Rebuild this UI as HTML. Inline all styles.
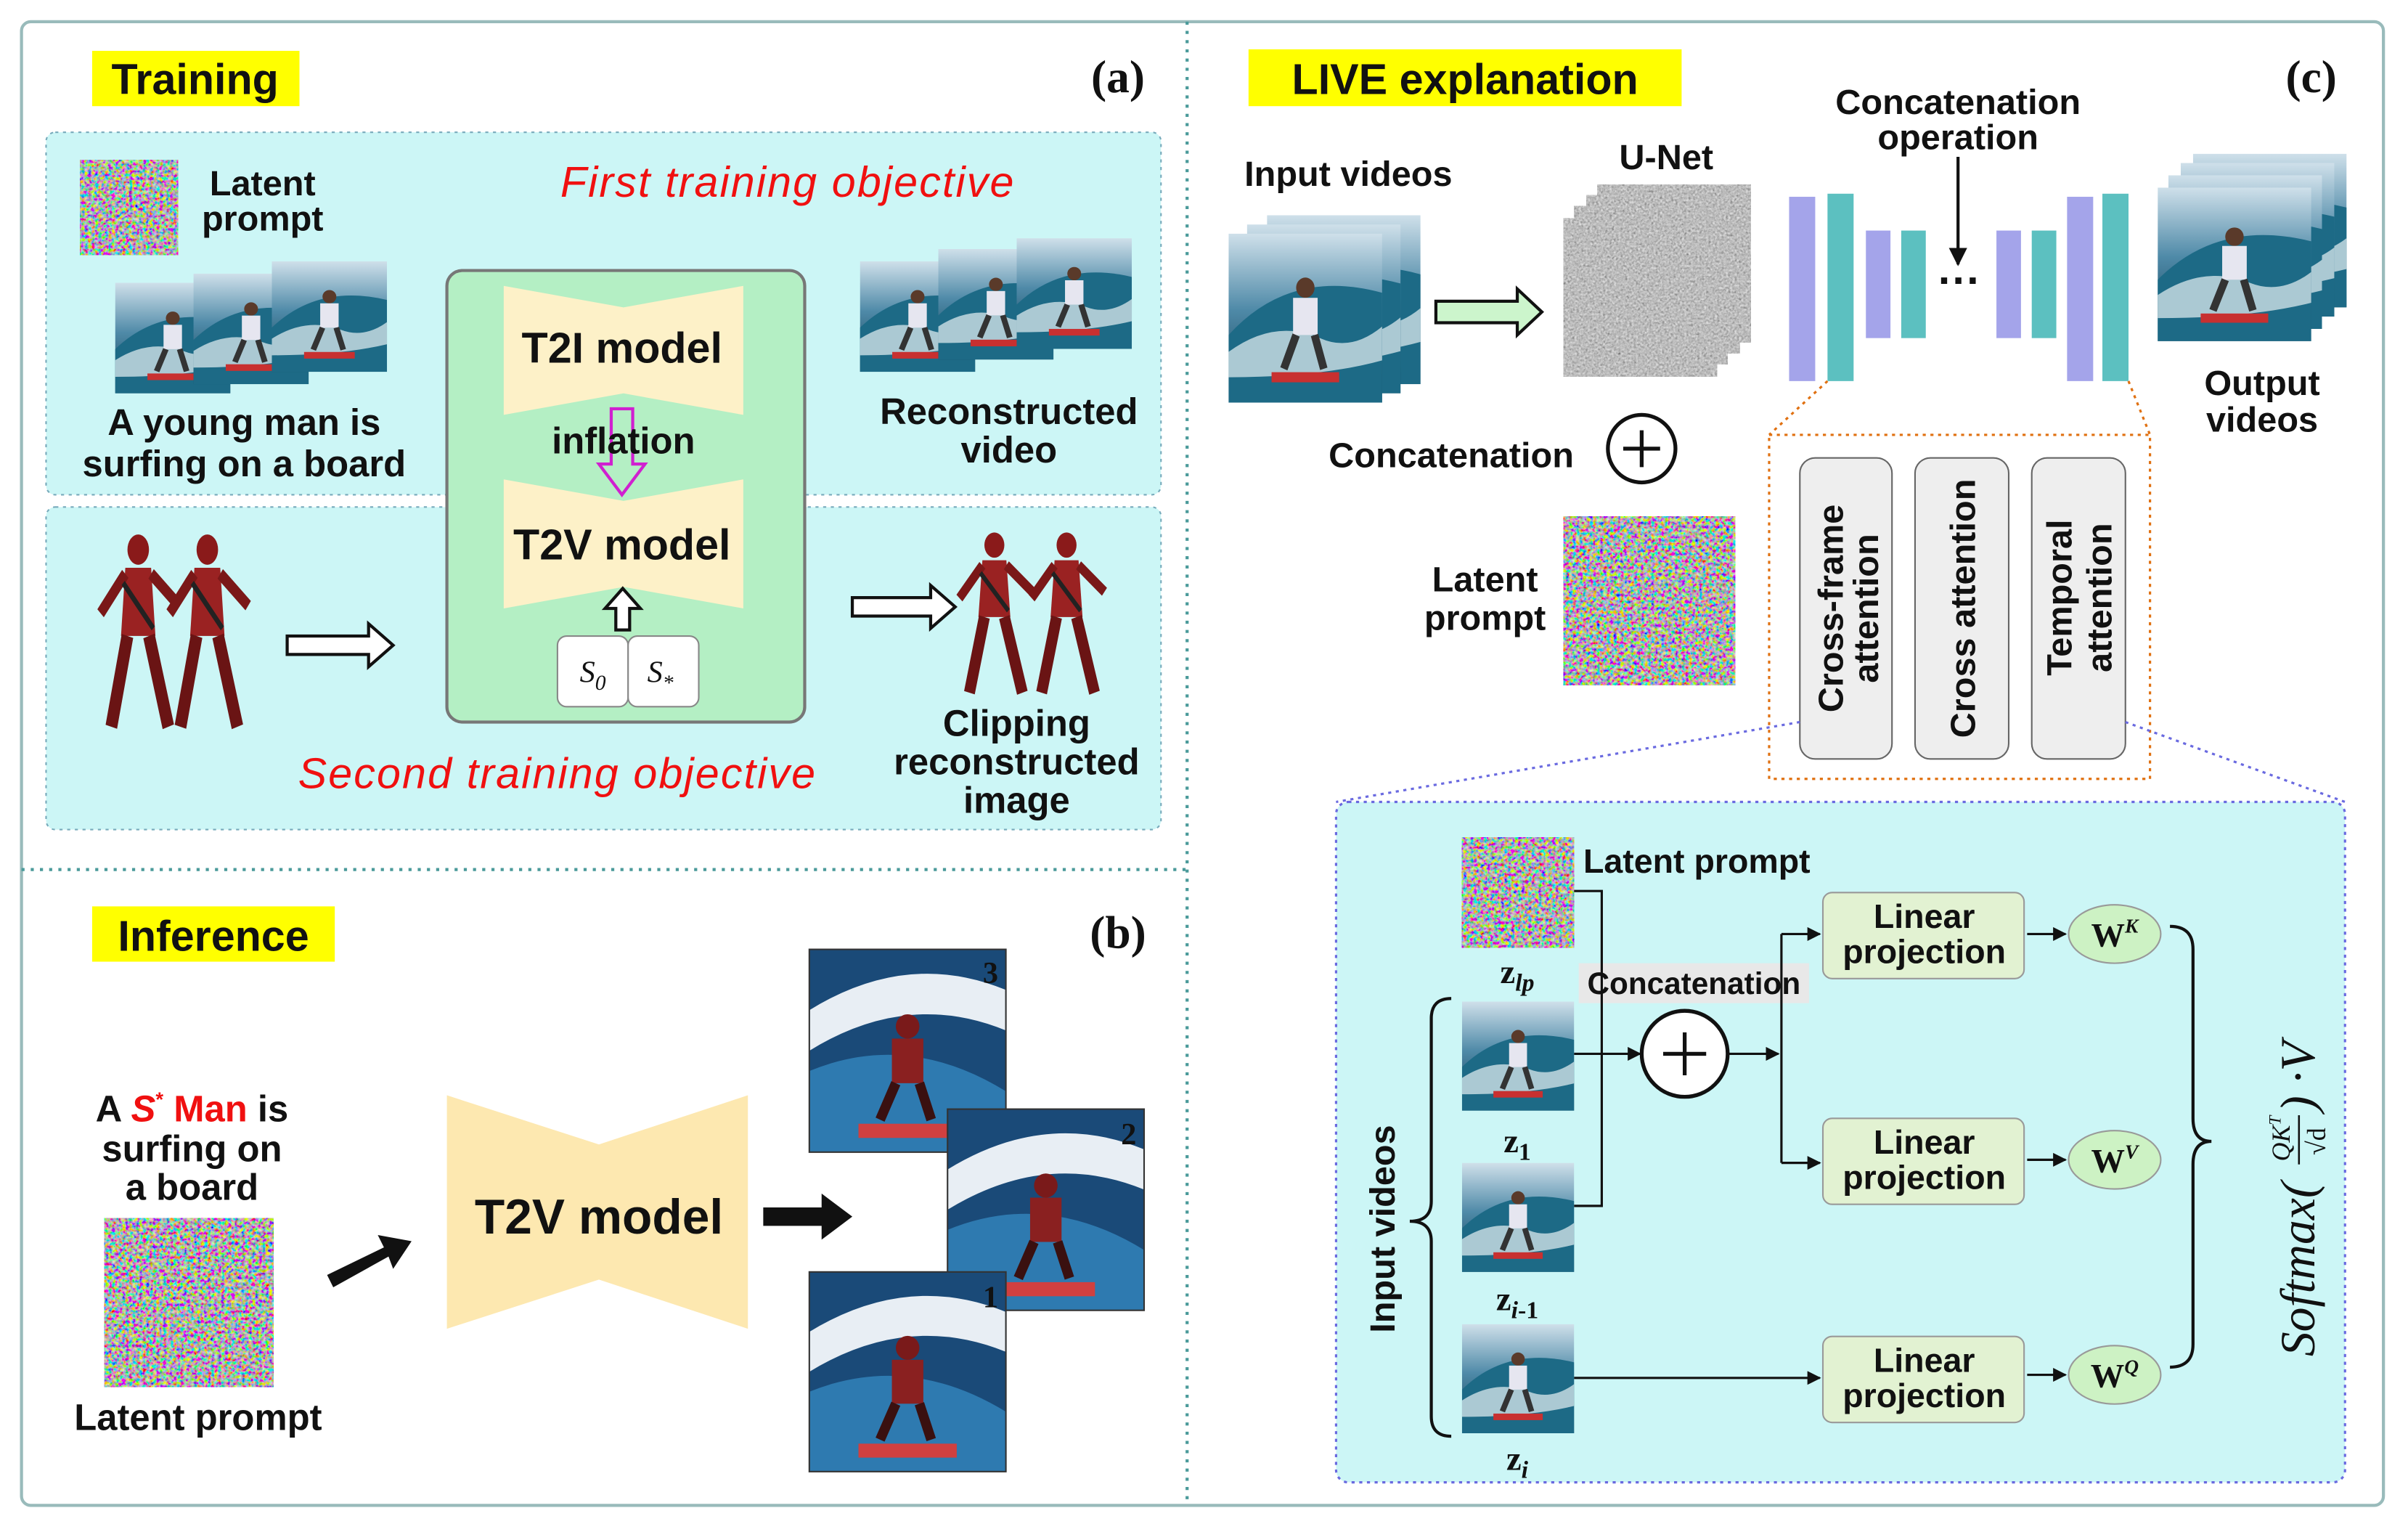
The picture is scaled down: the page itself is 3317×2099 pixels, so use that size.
<!DOCTYPE html>
<html><head><meta charset="utf-8"><style>
html,body{margin:0;padding:0;background:#fff}
svg{display:block}
text{font-family:"Liberation Sans",sans-serif;font-weight:bold;fill:#111}
.ser{font-family:"Liberation Serif",serif}
</style></head><body>
<svg width="3317" height="2099" viewBox="0 0 1568 992" xmlns="http://www.w3.org/2000/svg">
<defs>
<filter id="nz" x="0" y="0" width="100%" height="100%">
<feTurbulence type="fractalNoise" baseFrequency="0.45" numOctaves="2" seed="3"/>
<feColorMatrix type="matrix" values="2.2 -0.6 -0.6 0 -0.05  -0.6 2.2 -0.6 0 -0.05  -0.6 -0.6 2.2 0 -0.05  0 0 0 0 1"/>
</filter>
<filter id="gn" x="0" y="0" width="100%" height="100%">
<feTurbulence type="fractalNoise" baseFrequency="0.7" numOctaves="2" seed="7"/>
<feColorMatrix type="matrix" values="0.4 0.4 0.4 0 -0.1  0.4 0.4 0.4 0 -0.1  0.4 0.4 0.4 0 -0.1  0 0 0 0 1"/>
</filter>
<linearGradient id="sky" x1="0" y1="0" x2="0" y2="1">
<stop offset="0" stop-color="#cfe0ea"/><stop offset="0.45" stop-color="#4f8aa8"/><stop offset="1" stop-color="#0f3c52"/></linearGradient>
<symbol id="surf" viewBox="0 0 100 100" preserveAspectRatio="none">
<rect width="100" height="100" fill="url(#sky)"/>
<path d="M0 60 Q40 20 100 35 L100 100 L0 100Z" fill="#1d6a86"/>
<path d="M0 70 Q30 50 60 62 Q80 70 100 55 L100 75 Q60 85 0 85Z" fill="#e8f2f4" opacity="0.7"/>
<circle cx="50" cy="32" r="6" fill="#5a3a2a"/>
<rect x="42" y="38" width="16" height="22" fill="#e6e6f0"/>
<path d="M44 60 L36 80 M56 60 L62 80" stroke="#333" stroke-width="5"/>
<rect x="28" y="82" width="44" height="6" fill="#c83030"/>
</symbol>
<symbol id="dp" viewBox="0 0 100 140" preserveAspectRatio="none">
<circle cx="50" cy="18" r="10" fill="#8a1a1a"/>
<path d="M38 30 L62 30 L66 75 L34 75Z" fill="#9a2222"/>
<path d="M38 34 L15 60 M62 34 L88 55" stroke="#7a1818" stroke-width="8"/>
<path d="M40 75 L25 135 M60 75 L78 135" stroke="#6a1414" stroke-width="11"/>
<path d="M36 40 L64 70" stroke="#222" stroke-width="4"/>
</symbol>
<symbol id="surfdp" viewBox="0 0 100 100" preserveAspectRatio="none">
<rect width="100" height="100" fill="#1a4a78"/>
<path d="M0 30 Q50 0 100 20 L100 40 Q50 20 0 50Z" fill="#e8eef4"/>
<path d="M0 60 Q50 40 100 70 L100 100 L0 100Z" fill="#2e7ab0"/>
<circle cx="50" cy="38" r="6" fill="#7a1a1a"/>
<rect x="42" y="44" width="16" height="22" fill="#8a2020"/>
<path d="M44 66 L36 84 M56 66 L62 84" stroke="#3a1010" stroke-width="5"/>
<rect x="25" y="86" width="50" height="7" fill="#d04040"/>
</symbol>
<marker id="ah" viewBox="0 0 10 10" refX="9" refY="5" markerWidth="6" markerHeight="6" orient="auto"><path d="M0 0L10 5L0 10Z" fill="#111"/></marker>
</defs>

<rect x="14" y="14" width="1538" height="966" rx="6" fill="#fff" stroke="#9bb" stroke-width="2"/>
<line x1="773" y1="14" x2="773" y2="980" stroke="#4a9a9a" stroke-width="2" stroke-dasharray="2,4"/>
<line x1="14" y1="566" x2="773" y2="566" stroke="#4a9a9a" stroke-width="2" stroke-dasharray="2,4"/>

<!-- (a) -->
<rect x="60" y="33" width="135" height="36" fill="#ffff00"/>
<text x="127" y="61" font-size="28" text-anchor="middle">Training</text>
<text x="728" y="60" font-size="30" class="ser" text-anchor="middle">(a)</text>
<rect x="30" y="86" width="726" height="236" rx="6" fill="#ccf6f6" stroke="#7ab" stroke-dasharray="2,3"/>
<rect x="30" y="330" width="726" height="210" rx="6" fill="#ccf6f6" stroke="#7ab" stroke-dasharray="2,3"/>

<rect x="52" y="104" width="64" height="62" filter="url(#nz)"/>
<text x="171" y="127" font-size="23" text-anchor="middle">Latent</text>
<text x="171" y="150" font-size="23" text-anchor="middle">prompt</text>
<use href="#surf" x="75" y="184" width="75" height="72"/>
<use href="#surf" x="126" y="178" width="75" height="72"/>
<use href="#surf" x="177" y="170" width="75" height="72"/>
<text x="159" y="283" font-size="24" text-anchor="middle">A young man is</text>
<text x="159" y="310" font-size="24" text-anchor="middle">surfing on a board</text>
<text x="513" y="128" font-size="28" font-style="italic" style="fill:#f01010;font-weight:normal" text-anchor="middle" letter-spacing="1">First  training  objective</text>
<use href="#surf" x="560" y="170" width="75" height="72"/>
<use href="#surf" x="611" y="162" width="75" height="72"/>
<use href="#surf" x="662" y="155" width="75" height="72"/>
<text x="657" y="276" font-size="24" text-anchor="middle">Reconstructed</text>
<text x="657" y="301" font-size="24" text-anchor="middle">video</text>

<rect x="291" y="176" width="233" height="294" rx="10" fill="#b4efc4" stroke="#777" stroke-width="2"/>
<polygon points="328,186 406,200 484,186 484,270 406,256 328,270" fill="#fdf1c8"/>
<text x="405" y="236" font-size="28" text-anchor="middle">T2I model</text>
<polygon points="328,312 406,326 484,312 484,396 406,382 328,396" fill="#fdf1c8"/>
<text x="405" y="364" font-size="28" text-anchor="middle">T2V model</text>
<path d="M398 266 L412 266 L412 302 L420 302 L405 322 L390 302 L398 302Z" fill="none" stroke="#d020d0" stroke-width="2"/>
<text x="406" y="295" font-size="24" text-anchor="middle">inflation</text>
<path d="M401 410 L410 410 L410 396 L417 396 L405.5 383 L394 396 L401 396Z" fill="#fff" stroke="#111" stroke-width="2"/>
<rect x="363" y="414" width="46" height="46" rx="6" fill="#fff" stroke="#888"/>
<rect x="409" y="414" width="46" height="46" rx="6" fill="#fff" stroke="#888"/>
<text x="386" y="444" font-size="20" class="ser" font-style="italic" style="font-weight:normal" text-anchor="middle">S<tspan font-size="14" dy="5">0</tspan></text>
<text x="430" y="444" font-size="20" class="ser" font-style="italic" style="font-weight:normal" text-anchor="middle">S<tspan font-size="14" dy="5">*</tspan></text>

<use href="#dp" x="55" y="340" width="70" height="138"/>
<use href="#dp" x="100" y="340" width="70" height="138"/>
<path d="M187 414 L240 414 L240 406 L256 420 L240 434 L240 426 L187 426Z" fill="#fff" stroke="#111" stroke-width="2"/>
<path d="M555 389 L606 389 L606 381 L622 395 L606 409 L606 401 L555 401Z" fill="#fff" stroke="#111" stroke-width="2"/>
<use href="#dp" x="615" y="340" width="65" height="115"/>
<use href="#dp" x="662" y="340" width="65" height="115"/>
<text x="662" y="479" font-size="24" text-anchor="middle">Clipping</text>
<text x="662" y="504" font-size="24" text-anchor="middle">reconstructed</text>
<text x="662" y="529" font-size="24" text-anchor="middle">image</text>
<text x="363" y="513" font-size="28" font-style="italic" style="fill:#f01010;font-weight:normal" text-anchor="middle" letter-spacing="1">Second  training  objective</text>

<!-- (b) -->
<rect x="60" y="590" width="158" height="36" fill="#ffff00"/>
<text x="139" y="619" font-size="28" text-anchor="middle">Inference</text>
<text x="728" y="617" font-size="30" class="ser" text-anchor="middle">(b)</text>
<text x="125" y="730" font-size="24" text-anchor="middle">A <tspan style="fill:#f01010" font-style="italic">S</tspan><tspan style="fill:#f01010" font-size="13" dy="-10">*</tspan><tspan style="fill:#f01010" dy="10"> Man</tspan> is</text>
<text x="125" y="756" font-size="24" text-anchor="middle">surfing on</text>
<text x="125" y="781" font-size="24" text-anchor="middle">a board</text>
<rect x="68" y="793" width="110" height="110" filter="url(#nz)"/>
<text x="129" y="931" font-size="24" text-anchor="middle">Latent prompt</text>
<path d="M213 830 L250 812 L246 804 L268 808 L256 826 L253 818 L217 838Z" fill="#111"/>
<polygon points="291,713 390,745 487,713 487,865 390,833 291,865" fill="#fde8b0"/>
<text x="390" y="803" font-size="32" text-anchor="middle">T2V model</text>
<path d="M497 786 L535 786 L535 777 L555 792 L535 807 L535 798 L497 798Z" fill="#111"/>
<use href="#surfdp" x="527" y="618" width="128" height="132"/>
<rect x="527" y="618" width="128" height="132" fill="none" stroke="#333"/>
<text x="645" y="640" font-size="20" class="ser" text-anchor="middle">3</text>
<use href="#surfdp" x="617" y="722" width="128" height="131"/>
<rect x="617" y="722" width="128" height="131" fill="none" stroke="#333"/>
<text x="735" y="745" font-size="20" class="ser" text-anchor="middle">2</text>
<use href="#surfdp" x="527" y="828" width="128" height="130"/>
<rect x="527" y="828" width="128" height="130" fill="none" stroke="#333"/>
<text x="645" y="851" font-size="20" class="ser" text-anchor="middle">1</text>

<!-- (c) -->
<rect x="813" y="32" width="282" height="37" fill="#ffff00"/>
<text x="954" y="61" font-size="28" text-anchor="middle">LIVE explanation</text>
<text x="1505" y="60" font-size="30" class="ser" text-anchor="middle">(c)</text>
<text x="878" y="121" font-size="23" text-anchor="middle">Input videos</text>
<use href="#surf" x="825" y="140" width="100" height="110"/>
<use href="#surf" x="812" y="146" width="100" height="110"/>
<use href="#surf" x="800" y="152" width="100" height="110"/>
<path d="M935 196 L988 196 L988 188 L1004 203 L988 218 L988 210 L935 210Z" fill="#ccf5cc" stroke="#111" stroke-width="2"/>
<text x="1085" y="110" font-size="23" text-anchor="middle">U-Net</text>
<rect x="1040" y="120" width="100" height="103" filter="url(#gn)"/>
<rect x="1033" y="127" width="100" height="103" filter="url(#gn)"/>
<rect x="1025" y="134" width="100" height="103" filter="url(#gn)"/>
<rect x="1018" y="142" width="100" height="103" filter="url(#gn)"/>
<rect x="1165" y="128" width="17" height="120" fill="#a4a4ea"/>
<rect x="1190" y="126" width="17" height="122" fill="#5cc0c0"/>
<rect x="1215" y="150" width="16" height="70" fill="#a4a4ea"/>
<rect x="1238" y="150" width="16" height="70" fill="#5cc0c0"/>
<text x="1276" y="192" font-size="28" text-anchor="middle">···</text>
<rect x="1300" y="150" width="16" height="70" fill="#a4a4ea"/>
<rect x="1323" y="150" width="16" height="70" fill="#5cc0c0"/>
<rect x="1346" y="128" width="17" height="120" fill="#a4a4ea"/>
<rect x="1369" y="126" width="17" height="122" fill="#5cc0c0"/>
<text x="1275" y="74" font-size="23" text-anchor="middle">Concatenation</text>
<text x="1275" y="97" font-size="23" text-anchor="middle">operation</text>
<line x1="1275" y1="102" x2="1275" y2="172" stroke="#111" stroke-width="2" marker-end="url(#ah)"/>
<use href="#surf" x="1428" y="100" width="100" height="100"/>
<use href="#surf" x="1420" y="106" width="100" height="100"/>
<use href="#surf" x="1412" y="114" width="100" height="100"/>
<use href="#surf" x="1405" y="122" width="100" height="100"/>
<text x="1473" y="257" font-size="23" text-anchor="middle">Output</text>
<text x="1473" y="281" font-size="23" text-anchor="middle">videos</text>
<text x="945" y="304" font-size="23" text-anchor="middle">Concatenation</text>
<circle cx="1069" cy="292" r="22" fill="#fff" stroke="#111" stroke-width="2.5"/>
<path d="M1057 292 H1081 M1069 280 V304" stroke="#111" stroke-width="2.5"/>
<line x1="1190" y1="248" x2="1152" y2="283" stroke="#e07010" stroke-dasharray="2,3" stroke-width="1.5"/>
<line x1="1386" y1="248" x2="1400" y2="283" stroke="#e07010" stroke-dasharray="2,3" stroke-width="1.5"/>
<rect x="1152" y="283" width="248" height="224" fill="#fff" stroke="#e07010" stroke-dasharray="2,3" stroke-width="1.5"/>
<rect x="1172" y="298" width="60" height="196" rx="10" fill="#eeeeee" stroke="#666"/>
<rect x="1247" y="298" width="61" height="196" rx="10" fill="#eeeeee" stroke="#666"/>
<rect x="1323" y="298" width="61" height="196" rx="10" fill="#eeeeee" stroke="#666"/>
<text transform="translate(1200,396) rotate(-90)" font-size="23" text-anchor="middle">Cross-frame</text>
<text transform="translate(1223,396) rotate(-90)" font-size="23" text-anchor="middle">attention</text>
<text transform="translate(1286,396) rotate(-90)" font-size="23" text-anchor="middle">Cross attention</text>
<text transform="translate(1349,389) rotate(-90)" font-size="23" text-anchor="middle">Temporal</text>
<text transform="translate(1375,389) rotate(-90)" font-size="23" text-anchor="middle">attention</text>
<text x="967" y="385" font-size="23" text-anchor="middle">Latent</text>
<text x="967" y="410" font-size="23" text-anchor="middle">prompt</text>
<rect x="1018" y="336" width="112" height="110" filter="url(#nz)"/>
<line x1="1172" y1="470" x2="870" y2="522" stroke="#6a6ae0" stroke-dasharray="2,3" stroke-width="1.5"/>
<line x1="1384" y1="470" x2="1527" y2="522" stroke="#6a6ae0" stroke-dasharray="2,3" stroke-width="1.5"/>
<rect x="870" y="522" width="657" height="443" rx="8" fill="#ccf6f6" stroke="#6a6ae0" stroke-dasharray="2,3" stroke-width="1.5"/>

<rect x="952" y="545" width="73" height="72" filter="url(#nz)"/>
<text x="1031" y="568" font-size="22">Latent prompt</text>
<text x="988" y="640" font-size="22" class="ser" text-anchor="middle">z<tspan font-size="16" dy="5" font-style="italic">lp</tspan></text>
<rect x="1028" y="627" width="150" height="26" fill="#e8e8e8"/>
<text x="1103" y="647" font-size="20" text-anchor="middle">Concatenation</text>
<use href="#surf" x="952" y="652" width="73" height="71"/>
<text x="988" y="750" font-size="22" class="ser" text-anchor="middle">z<tspan font-size="16" dy="5">1</tspan></text>
<use href="#surf" x="952" y="757" width="73" height="71"/>
<text x="988" y="853" font-size="22" class="ser" text-anchor="middle">z<tspan font-size="16" dy="5" font-style="italic">i</tspan><tspan font-size="16">-1</tspan></text>
<use href="#surf" x="952" y="862" width="73" height="71"/>
<text x="988" y="957" font-size="22" class="ser" text-anchor="middle">z<tspan font-size="16" dy="5" font-style="italic">i</tspan></text>
<path d="M1025 580 H1043 V785 H1025 M1025 686 H1043" fill="none" stroke="#111" stroke-width="1.5"/>
<line x1="1043" y1="686" x2="1068" y2="686" stroke="#111" stroke-width="1.5" marker-end="url(#ah)"/>
<circle cx="1097" cy="686" r="28" fill="#fff" stroke="#111" stroke-width="2.5"/>
<path d="M1083 686 H1111 M1097 672 V700" stroke="#111" stroke-width="2.5"/>
<line x1="1125" y1="686" x2="1158" y2="686" stroke="#111" stroke-width="1.5" marker-end="url(#ah)"/>
<path d="M1160 608 V757" stroke="#111" stroke-width="1.5"/>
<line x1="1160" y1="608" x2="1185" y2="608" stroke="#111" stroke-width="1.5" marker-end="url(#ah)"/>
<line x1="1160" y1="757" x2="1185" y2="757" stroke="#111" stroke-width="1.5" marker-end="url(#ah)"/>
<line x1="1025" y1="897" x2="1185" y2="897" stroke="#111" stroke-width="1.5" marker-end="url(#ah)"/>
<rect x="1187" y="581" width="131" height="56" rx="6" fill="#e2f2d2" stroke="#999"/>
<rect x="1187" y="728" width="131" height="56" rx="6" fill="#e2f2d2" stroke="#999"/>
<rect x="1187" y="870" width="131" height="56" rx="6" fill="#e2f2d2" stroke="#999"/>
<text x="1253" y="604" font-size="22" text-anchor="middle">Linear</text>
<text x="1253" y="627" font-size="22" text-anchor="middle">projection</text>
<text x="1253" y="751" font-size="22" text-anchor="middle">Linear</text>
<text x="1253" y="774" font-size="22" text-anchor="middle">projection</text>
<text x="1253" y="893" font-size="22" text-anchor="middle">Linear</text>
<text x="1253" y="916" font-size="22" text-anchor="middle">projection</text>
<line x1="1320" y1="608" x2="1345" y2="608" stroke="#111" stroke-width="1.5" marker-end="url(#ah)"/>
<line x1="1320" y1="755" x2="1345" y2="755" stroke="#111" stroke-width="1.5" marker-end="url(#ah)"/>
<line x1="1320" y1="895" x2="1345" y2="895" stroke="#111" stroke-width="1.5" marker-end="url(#ah)"/>
<ellipse cx="1377" cy="608" rx="30" ry="19" fill="#cdf2c4" stroke="#999"/>
<ellipse cx="1377" cy="755" rx="30" ry="19" fill="#cdf2c4" stroke="#999"/>
<ellipse cx="1377" cy="895" rx="30" ry="19" fill="#cdf2c4" stroke="#999"/>
<text x="1377" y="616" font-size="22" class="ser" text-anchor="middle">W<tspan font-size="13" dy="-9" font-style="italic">K</tspan></text>
<text x="1377" y="763" font-size="22" class="ser" text-anchor="middle">W<tspan font-size="13" dy="-9" font-style="italic">V</tspan></text>
<text x="1377" y="903" font-size="22" class="ser" text-anchor="middle">W<tspan font-size="13" dy="-9" font-style="italic">Q</tspan></text>
<path d="M1413 603 Q1428 603 1428 618 V728 Q1428 743 1440 743 Q1428 743 1428 758 V875 Q1428 890 1413 890" fill="none" stroke="#111" stroke-width="2"/>
<g transform="translate(1497,748) rotate(-90)">
<text x="-135" y="10" font-size="32" class="ser" font-style="italic" style="font-weight:normal">Softmax(</text>
<text x="-8" y="-6" font-size="17" class="ser" font-style="italic" style="font-weight:normal">QK<tspan font-size="11" dy="-6">T</tspan></text>
<line x1="-10" y1="0" x2="22" y2="0" stroke="#111" stroke-width="1.2"/>
<text x="-4" y="17" font-size="17" class="ser" style="font-weight:normal">√d</text>
<text x="24" y="10" font-size="32" class="ser" font-style="italic" style="font-weight:normal">) ·V</text>
</g>
<path d="M945 650 Q932 650 932 663 V782 Q932 795 918 795 Q932 795 932 808 V922 Q932 935 945 935" fill="none" stroke="#111" stroke-width="2"/>
<text transform="translate(908,800) rotate(-90)" font-size="23" text-anchor="middle">Input videos</text>
</svg>
</body></html>
